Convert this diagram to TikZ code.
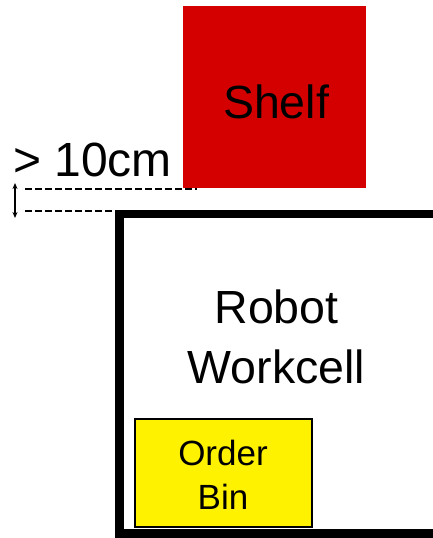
\documentclass[tikz,border=0pt]{standalone}
\usepackage{fontspec}
\setmainfont{Liberation Sans}
\usetikzlibrary{arrows.meta}
\definecolor{shelfred}{HTML}{D40000}
\begin{document}
\begin{tikzpicture}[x=1pt,y=-1pt,
  bigtxt/.style={font=\fontsize{46.5}{58}\selectfont, inner sep=0pt},
  dimtxt/.style={font=\fontsize{48}{58}\selectfont, inner sep=0pt},
  bintxt/.style={font=\fontsize{35}{44}\selectfont, inner sep=0pt},
  dashline/.style={line width=2.3pt, dash pattern=on 7pt off 3pt},
  wall/.style={line width=8.5pt}]
\useasboundingbox (0,0) rectangle (433,538);
% shelf
\node[fill=shelfred, minimum width=183pt, minimum height=182pt, inner sep=0pt, anchor=north west] (shelf) at (183,6) {};
\node[bigtxt, anchor=base] (shelftxt) at (276,118) {Shelf};
% workcell walls
\coordinate (wtr) at (440,214);
\coordinate (wtl) at (119.5,214);
\coordinate (wbl) at (119.5,533.5);
\coordinate (wbr) at (440,533.5);
\draw[wall] (wtr) -- (wtl) -- (wbl) -- (wbr);
\node[bigtxt, anchor=base] (robot) at (276.5,323) {Robot};
\node[bigtxt, anchor=base] (workcell) at (276.5,383) {Workcell};
% order bin
\node[draw=black, line width=2pt, fill=yellow, minimum width=177pt, minimum height=108pt, inner sep=0pt, anchor=north west] (bin) at (134,418) {};
\node[bintxt, anchor=base] (order) at (223,465) {Order};
\node[bintxt, anchor=base] (bintxt) at (223,509) {Bin};
% dimension
\coordinate (d1a) at (25,189);
\coordinate (d1b) at (197,189);
\coordinate (d2a) at (25,211);
\coordinate (d2b) at (118,211);
\draw[dashline] (d1a) -- (d1b);
\draw[dashline] (d2a) -- (d2b);
\coordinate (aa) at (15,183);
\coordinate (ab) at (15,218);
\draw[line width=1.6pt, {Stealth[length=6pt,width=5pt]}-{Stealth[length=6pt,width=5pt]}] (aa) -- (ab);
\node[dimtxt, anchor=base west] (dim) at (13,176) {> 10cm};
\end{tikzpicture}
\end{document}
